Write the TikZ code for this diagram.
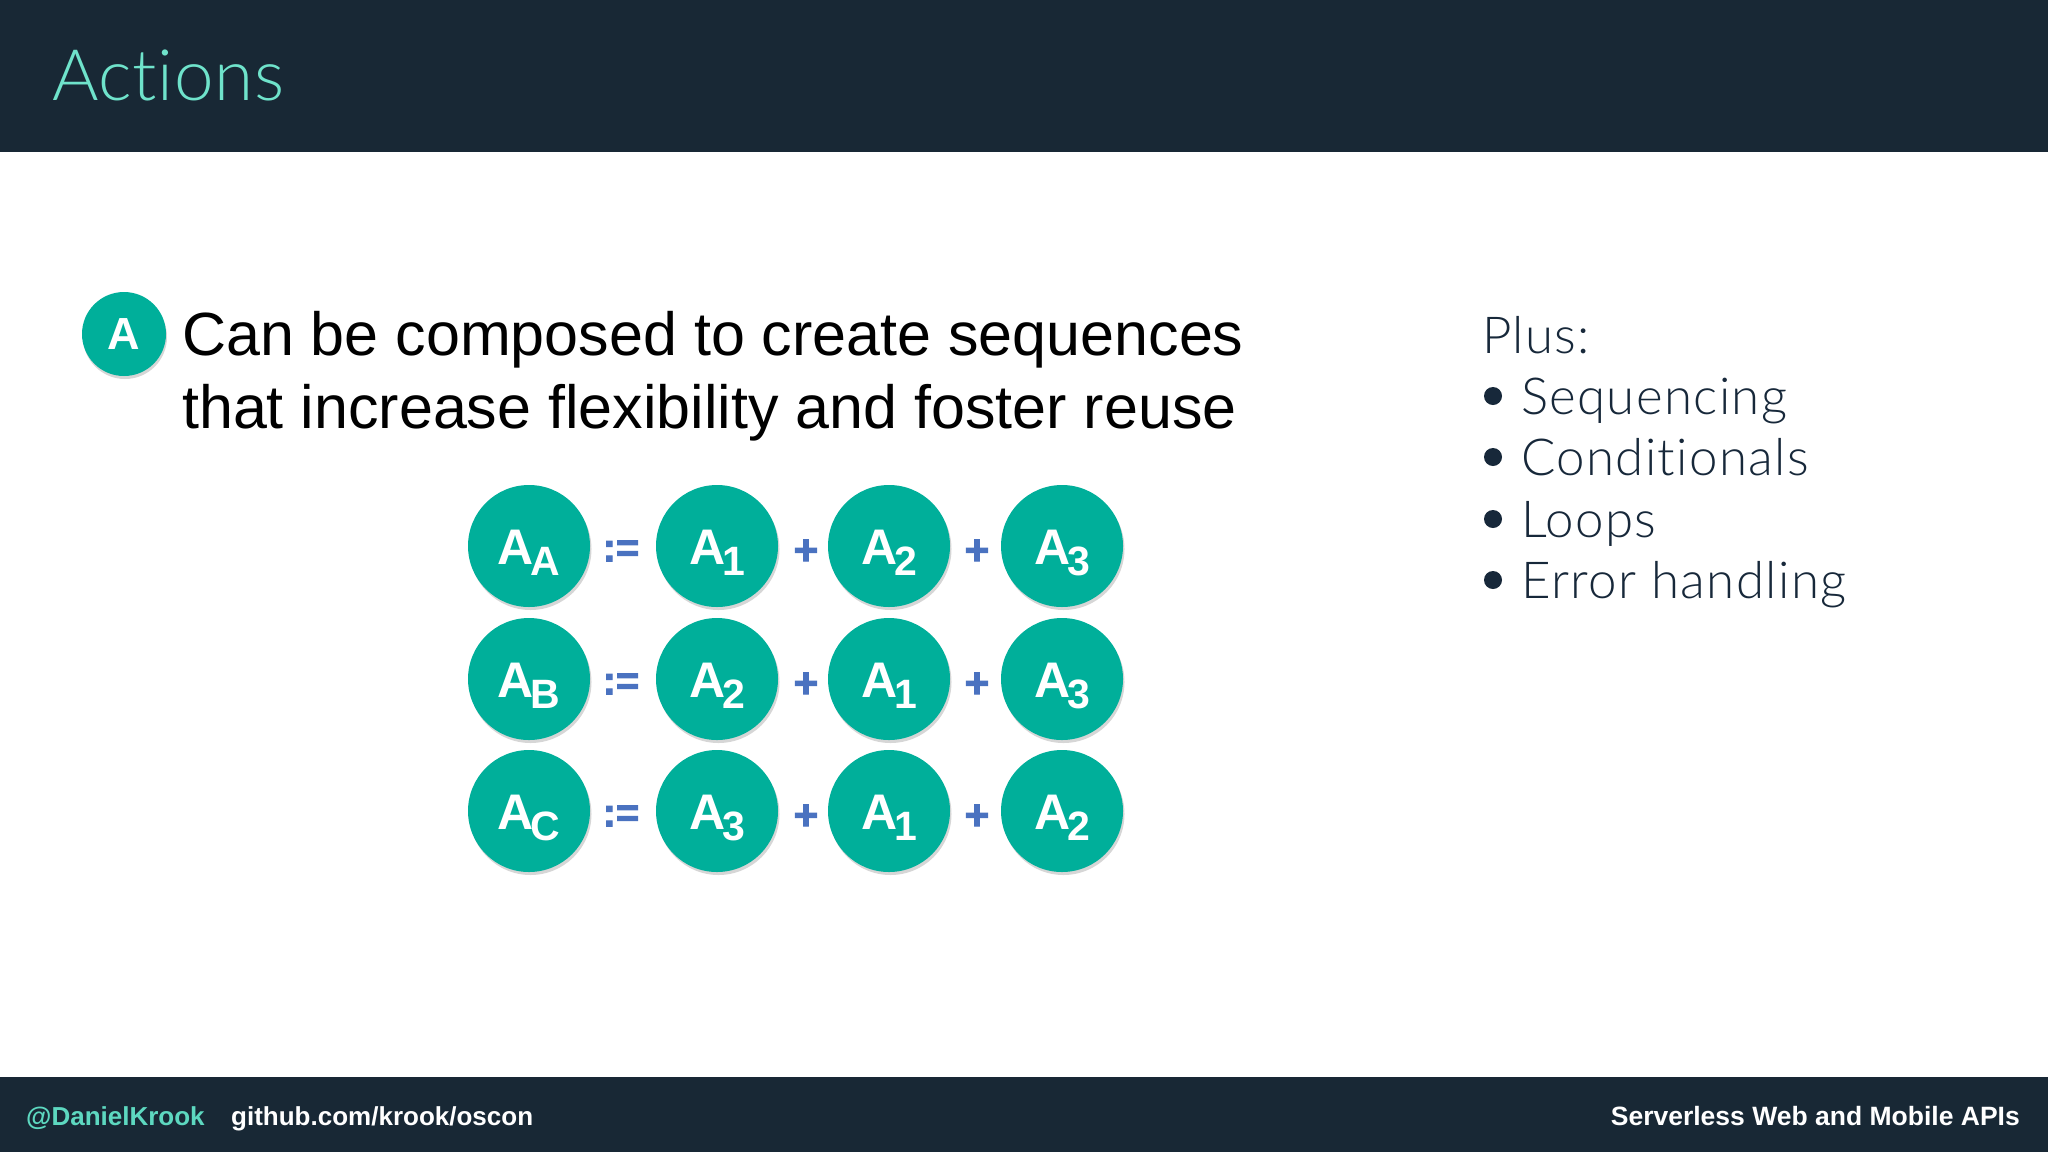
\documentclass[tikz,border=0pt]{standalone}
\usepackage{fontspec}
\setmainfont{Liberation Sans}
\newfontfamily\lightfont{Lato Light}[Ligatures=NoCommon,LetterSpace=2.6]
\newfontfamily\titlefont{Lato Light}[Ligatures=NoCommon,LetterSpace=1]
\newfontfamily\opfont{Liberation Sans Bold}[RawFeature={embolden=2.5}]
\usetikzlibrary{shadows}
\definecolor{navy}{HTML}{182835}
\definecolor{aqua}{HTML}{6FE3CB}
\definecolor{handle}{HTML}{5DD8C0}
\definecolor{tealc}{HTML}{00AF9A}
\definecolor{opblue}{HTML}{4A72C0}
\definecolor{ink}{HTML}{17283A}
\newcommand\fs[1]{\fontsize{#1}{#1}\selectfont}
\newcommand\Asb[1]{A\kern-3pt\raisebox{-11pt}{\fs{41}#1}}
\begin{document}
\begin{tikzpicture}[x=1pt,y=-1pt,
  circ/.style={circle,fill=tealc,minimum size=122pt,inner sep=0pt,
    drop shadow={shadow xshift=1.5pt,shadow yshift=-3pt,opacity=0.16,fill=black}},
  lbl/.style={text=white,font=\bfseries\fs{50},inner sep=0pt},
  opsym/.style={text=opblue,font=\opfont\fs{40},inner sep=0pt},
  plain/.style={inner sep=0pt,anchor=base west},
  bul/.style={circle,fill=ink,minimum size=18pt,inner sep=0pt}]
\useasboundingbox (0,0) rectangle (2048,1152);
\fill[white] (0,0) rectangle (2048,1152);
% header and footer
\fill[navy] (0,0) rectangle (2048,152);
\fill[navy] (0,1077) rectangle (2048,1152);
\node[plain,text=aqua,font=\titlefont\fs{71}] (title) at (52,100) {Actions};
% badge
\node[circle,fill=tealc,minimum size=84pt,inner sep=0pt,
  drop shadow={shadow xshift=1pt,shadow yshift=-3pt,opacity=0.16,fill=black},
  text=white,font=\bfseries\fs{45}] (badge) at (124,334) {A};
\node[plain,font=\fs{61}] (line1) at (182,355) {Can be composed to create sequences};
\node[plain,font=\fs{61}] (line2) at (182,428) {that increase flexibility and foster reuse};
% grid of circles
\foreach \r/\y/\a/\b/\c/\d in {1/546/A/1/2/3, 2/679/B/2/1/3, 3/811/C/3/1/2}{
  \node[circ] (c\r a) at (529,\y) {};
  \node[circ] (c\r b) at (717,\y) {};
  \node[circ] (c\r c) at (889,\y) {};
  \node[circ] (c\r d) at (1062,\y) {};
  \node[lbl] (l\r a) at ([yshift=-7pt]c\r a.center) {\Asb{\a}};
  \node[lbl] (l\r b) at ([yshift=-7pt]c\r b.center) {\Asb{\b}};
  \node[lbl] (l\r c) at ([yshift=-7pt]c\r c.center) {\Asb{\c}};
  \node[lbl] (l\r d) at ([yshift=-7pt]c\r d.center) {\Asb{\d}};
  \node[opsym] (e\r) at (621,\y+5) {:=};
  \node[opsym,font=\opfont\fs{42}] (p\r a) at (806,\y+6) {+};
  \node[opsym,font=\opfont\fs{42}] (p\r b) at (977,\y+6) {+};
}
% Plus list
\node[plain,text=ink,font=\lightfont\fs{51}] (plus) at (1482,353) {Plus:};
\foreach \t/\y [count=\i] in {Sequencing/414, Conditionals/475, Loops/537, Error handling/598}{
  \node[bul] (b\i) at (1493,\y-18) {};
  \node[plain,text=ink,font=\lightfont\fs{51}] (item\i) at (1521,\y) {\t};
}
% footer text
\node[plain,text=handle,font=\bfseries\fs{26}] (handle) at (26,1125) {@DanielKrook};
\node[plain,text=white,font=\bfseries\fs{26}] (repo) at (231,1125) {github.com/krook/oscon};
\node[inner sep=0pt,anchor=base east,text=white,font=\bfseries\fs{26.5}] (talk) at (2020,1125) {Serverless Web and Mobile APIs};
\end{tikzpicture}
\end{document}
